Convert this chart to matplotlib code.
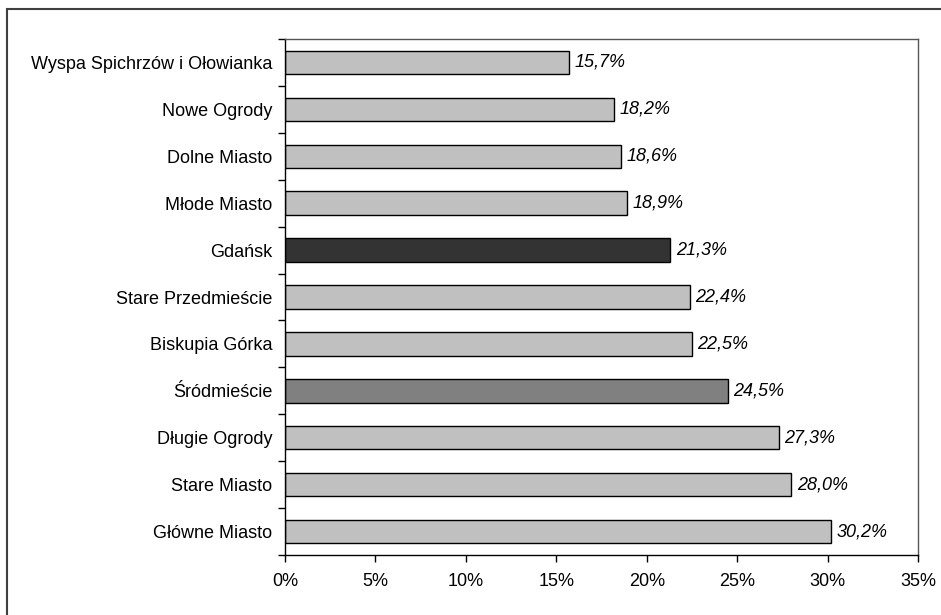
import matplotlib
matplotlib.use("Agg")
import matplotlib.pyplot as plt
from matplotlib.patches import Rectangle
from matplotlib.ticker import FixedLocator, FuncFormatter
import numpy as np

plt.rcParams['font.family'] = ['Liberation Sans', 'DejaVu Sans']

categories = ["Wyspa Spichrzów i Ołowianka", "Nowe Ogrody", "Dolne Miasto", "Młode Miasto",
              "Gdańsk", "Stare Przedmieście", "Biskupia Górka", "Śródmieście",
              "Długie Ogrody", "Stare Miasto", "Główne Miasto"]
values = [15.7, 18.2, 18.6, 18.9, 21.3, 22.4, 22.5, 24.5, 27.3, 28.0, 30.2]
colors = ["#C0C0C0"] * 4 + ["#333333"] + ["#C0C0C0"] * 2 + ["#808080"] + ["#C0C0C0"] * 3
xticks = [0, 5, 10, 15, 20, 25, 30, 35]

FS = 13
W, H = 941, 615
fig = plt.figure(figsize=(W / 100, H / 100), dpi=100)
fig.patches.append(Rectangle((7 / W, -0.5), 2, 1.5 - 9 / H, transform=fig.transFigure,
                             fill=False, edgecolor="#404040", linewidth=1.5))
ax = fig.add_axes([285 / W, 1 - 555 / H, (918 - 285) / W, (555 - 39) / H])

y = np.arange(len(categories))
ax.barh(y, values, height=0.5, color=colors, edgecolor="black", linewidth=1)
for yi, v in zip(y, values):
    ax.text(v + 0.3, yi, f"{v:.1f}%".replace(".", ","), va="center", ha="left",
            fontsize=FS, style="italic")

ax.set_ylim(len(categories) - 0.5, -0.5)
ax.set_xlim(0, 35)
ax.set_yticks(y)
ax.set_yticklabels(categories, fontsize=FS)
ax.yaxis.set_minor_locator(FixedLocator(np.arange(-0.5, len(categories), 1)))
ax.tick_params(axis="y", which="major", length=0, pad=9)
ax.tick_params(axis="y", which="minor", length=5, width=1)
ax.set_xticks(xticks)
ax.xaxis.set_major_formatter(FuncFormatter(lambda v, p: f"{int(v)}%"))
ax.tick_params(axis="x", length=5, width=1, labelsize=FS, pad=8)
ax.spines["left"].set_color("black")
ax.spines["bottom"].set_color("black")
ax.spines["top"].set_color("#555555")
ax.spines["right"].set_color("#555555")
for s in ax.spines.values():
    s.set_linewidth(1)

fig.savefig("out.png", dpi=100)
